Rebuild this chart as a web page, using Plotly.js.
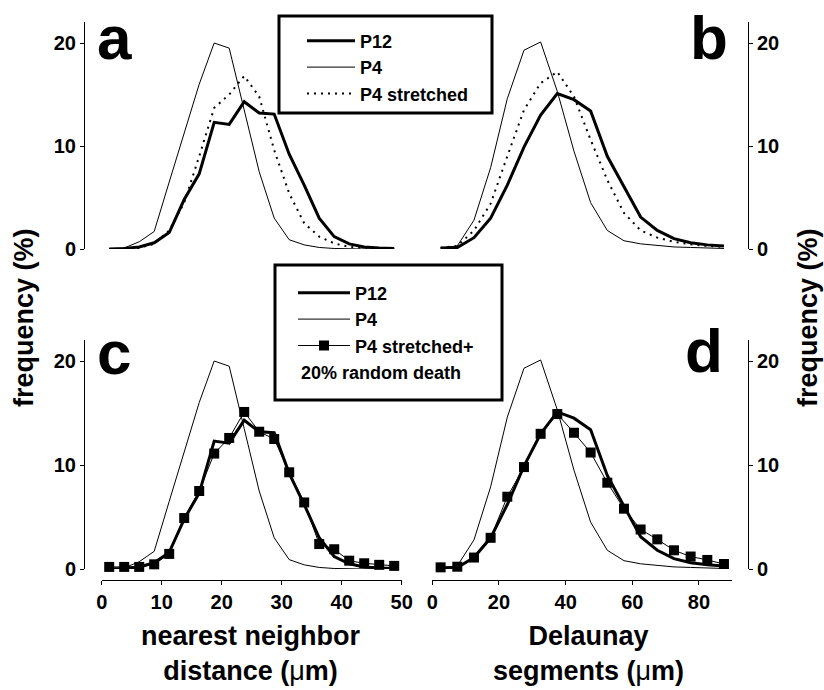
<!DOCTYPE html>
<html>
<head>
<meta charset="utf-8">
<script src="https://cdn.plot.ly/plotly-3.0.1.min.js"></script>
<style>html,body{margin:0;padding:0;background:#fff;}#chart{width:824px;height:690px;}</style>
</head>
<body>
<div id="chart"></div>
<script>
// ---- data ----
// nearest neighbor distance bins (µm), panels a and c
var nnBins = [1.25, 3.75, 6.25, 8.75, 11.25, 13.75, 16.25, 18.75, 21.25, 23.75, 26.25, 28.75, 31.25, 33.75, 36.25, 38.75, 41.25, 43.75, 46.25, 48.75];
var nnP12 = [0, 0.05, 0.2, 0.6, 1.6, 4.8, 7.3, 12.3, 12.1, 14.3, 13.2, 13.1, 9.2, 6.2, 3.0, 1.2, 0.5, 0.2, 0.1, 0.05];
var nnP4 = [0, 0.1, 0.7, 1.7, 6.5, 11.2, 16.0, 20.0, 19.5, 13.5, 7.5, 3.0, 0.9, 0.4, 0.15, 0.05, 0, 0, 0, 0];
var nnP4Stretched = [0, 0, 0.1, 0.5, 1.8, 4.5, 9.0, 13.7, 15.0, 16.8, 14.8, 9.6, 5.4, 2.5, 1.2, 0.55, 0.2, 0.1, 0.05, 0];
var nnP4StretchedDeath = [0.2, 0.2, 0.2, 0.45, 1.45, 4.9, 7.5, 11.1, 12.6, 15.1, 13.2, 12.5, 9.3, 6.4, 2.4, 1.9, 0.8, 0.55, 0.4, 0.3];

// Delaunay segment bins (µm), panels b and d
var dsBins = [2.5, 7.5, 12.5, 17.5, 22.5, 27.5, 32.5, 37.5, 42.5, 47.5, 52.5, 57.5, 62.5, 67.5, 72.5, 77.5, 82.5, 87.5];
var dsP12 = [0.1, 0.15, 1.1, 3.0, 6.2, 9.9, 13.0, 15.1, 14.5, 13.4, 9.0, 6.0, 3.1, 1.8, 1.0, 0.6, 0.4, 0.3];
var dsP4 = [0.1, 0.3, 2.8, 7.9, 14.6, 19.3, 20.1, 15.3, 9.5, 4.5, 1.8, 0.8, 0.5, 0.35, 0.2, 0.15, 0.1, 0.05];
var dsP4Stretched = [0.1, 0.3, 1.8, 4.4, 9.0, 13.5, 16.1, 17.2, 14.8, 10.6, 6.7, 3.5, 1.8, 1.1, 0.7, 0.45, 0.3, 0.2];
var dsP4StretchedDeath = [0.16, 0.22, 1.1, 3.0, 6.95, 9.8, 13.0, 14.9, 13.1, 11.2, 8.3, 5.8, 3.8, 2.85, 1.8, 1.2, 0.87, 0.48];

// labels
var seriesNames = ['P12', 'P4', 'P4 stretched', 'P4 stretched+'];
var yTicks = [0, 10, 20];
var nnTicks = [0, 10, 20, 30, 40, 50];
var dsTicks = [0, 20, 40, 60, 80];

// ---- styling ----
var W = 824, H = 690;
function px(x) { return x / W; }
function py(y) { return 1 - y / H; }
var FONT = 'Liberation Sans, Arial, Helvetica, sans-serif';
var thick = {color: '#000', width: 3};
var thin = {color: '#000', width: 1};
var dotted = {color: '#000', width: 2, dash: '2px,5px'};

function tr(x, y, name, line, xa, ya, legend, show, extra) {
  var t = {x: x, y: y, name: name, type: 'scatter', mode: 'lines', line: line,
           xaxis: xa, yaxis: ya, showlegend: show, legend: legend, cliponaxis: false,
           hoverinfo: 'skip'};
  if (extra) for (var k in extra) t[k] = extra[k];
  return t;
}
var sqMarker = {symbol: 'square', size: 10, color: '#000'};

var traces = [
  // panel a
  tr(nnBins, nnP12, seriesNames[0], thick, 'x', 'y', 'legend', true),
  tr(nnBins, nnP4, seriesNames[1], thin, 'x', 'y', 'legend', true),
  tr(nnBins, nnP4Stretched, seriesNames[2], dotted, 'x', 'y', 'legend', true),
  // panel b
  tr(dsBins, dsP12, seriesNames[0], thick, 'x2', 'y2', 'legend', false),
  tr(dsBins, dsP4, seriesNames[1], thin, 'x2', 'y2', 'legend', false),
  tr(dsBins, dsP4Stretched, seriesNames[2], dotted, 'x2', 'y2', 'legend', false),
  // panel c
  tr(nnBins, nnP12, seriesNames[0], thick, 'x3', 'y3', 'legend2', true),
  tr(nnBins, nnP4, seriesNames[1], thin, 'x3', 'y3', 'legend2', true),
  tr(nnBins, nnP4StretchedDeath, seriesNames[3], thin, 'x3', 'y3', 'legend2', true, {mode: 'lines+markers', marker: sqMarker}),
  // panel d
  tr(dsBins, dsP12, seriesNames[0], thick, 'x4', 'y4', 'legend2', false),
  tr(dsBins, dsP4, seriesNames[1], thin, 'x4', 'y4', 'legend2', false),
  tr(dsBins, dsP4StretchedDeath, seriesNames[3], thin, 'x4', 'y4', 'legend2', false, {mode: 'lines+markers', marker: sqMarker})
];

var tickFont = {family: FONT, size: 20, color: '#000', weight: 'bold'};

// geometry (pixels)
var leftX0 = 101.7, leftX1 = 401.7;
var rightX0 = 432.3, rightX1 = 732.3;
var topY0 = 249, topY1 = 249 - 22 * 10.3;
var botY0 = 569, botY1 = 569 - 22 * 10.4;
var xAxisLineY = 580;

function yAxis(dom, pos, side) {
  return {domain: dom, range: [0, 22], anchor: 'free', position: pos, side: side,
          showline: true, linecolor: '#000', linewidth: 1, ticks: 'outside', ticklen: 4,
          tickwidth: 1, tickcolor: '#000', tickvals: yTicks, ticktext: yTicks.map(String),
          tickfont: tickFont, showgrid: false, zeroline: false, fixedrange: true};
}
function xHidden(dom, rng) {
  return {domain: dom, range: rng, visible: false, fixedrange: true};
}
function xShown(dom, rng, ticks, pos) {
  return {domain: dom, range: rng, anchor: 'free', position: pos, showline: true,
          linecolor: '#000', linewidth: 1, ticks: 'outside', ticklen: 4, tickwidth: 1,
          tickcolor: '#000', tickvals: ticks, ticktext: ticks.map(String), tickfont: tickFont,
          showgrid: false, zeroline: false, fixedrange: true};
}

var leftDom = [px(leftX0), px(leftX1)];
var rightDom = [px(rightX0), px(rightX1)];
var topDom = [py(topY0), py(topY1)];
var botDom = [py(botY0), py(botY1)];

var letterFont = {family: FONT, size: 62, color: '#000', weight: 'bold'};
var titleFont = {family: FONT, size: 27, color: '#000', weight: 'bold'};
var legFont = {family: FONT, size: 18, color: '#000', weight: 'bold'};

function ann(text, x, y, font, extra) {
  var a = {text: text, x: px(x), y: py(y), xref: 'paper', yref: 'paper', showarrow: false,
           font: font, xanchor: 'center', yanchor: 'middle'};
  if (extra) for (var k in extra) a[k] = extra[k];
  return a;
}
var mu = '<span style="font-weight:normal">μ</span>';

var layout = {
  width: W, height: H,
  margin: {l: 0, r: 0, t: 0, b: 0, pad: 0},
  paper_bgcolor: '#fff', plot_bgcolor: 'rgba(0,0,0,0)',
  font: {family: FONT, color: '#000'},
  xaxis: xHidden(leftDom, [0, 50]),
  yaxis: yAxis(topDom, px(84), 'left'),
  xaxis2: xHidden(rightDom, [0, 90]),
  yaxis2: yAxis(topDom, px(748), 'right'),
  xaxis3: xShown(leftDom, [0, 50], nnTicks, py(xAxisLineY)),
  yaxis3: yAxis(botDom, px(84), 'left'),
  xaxis4: xShown(rightDom, [0, 90], dsTicks, py(xAxisLineY)),
  yaxis4: yAxis(botDom, px(748), 'right'),
  legend: {x: px(302), y: py(22.5), xanchor: 'left', yanchor: 'top', bgcolor: 'rgba(0,0,0,0)',
           borderwidth: 0, font: legFont, itemwidth: 48, tracegroupgap: 0, traceorder: 'normal'},
  legend2: {x: px(293), y: py(274.5), xanchor: 'left', yanchor: 'top', bgcolor: 'rgba(0,0,0,0)',
            borderwidth: 0, font: legFont, itemwidth: 52, tracegroupgap: 0, traceorder: 'normal'},
  shapes: [
    {type: 'rect', xref: 'paper', yref: 'paper', x0: px(279), x1: px(492), y0: py(16), y1: py(113),
     line: {color: '#000', width: 3}, fillcolor: 'rgba(0,0,0,0)'},
    {type: 'rect', xref: 'paper', yref: 'paper', x0: px(275), x1: px(502), y0: py(265), y1: py(400),
     line: {color: '#000', width: 3}, fillcolor: 'rgba(0,0,0,0)'}
  ],
  annotations: [
    ann('a', 114, 1, letterFont, {yanchor: 'top'}),
    ann('b', 709, 1, letterFont, {yanchor: 'top'}),
    ann('c', 114, 352, letterFont),
    ann('d', 704, 350, letterFont),
    ann('20% random death', 299, 373, legFont, {xanchor: 'left'}),
    ann('frequency (%)', 24, 318, titleFont, {textangle: -90}),
    ann('frequency (%)', 808, 318, titleFont, {textangle: -90}),
    ann('nearest neighbor<br>distance (' + mu + 'm)', 251, 653, titleFont),
    ann('Delaunay<br>segments (' + mu + 'm)', 588, 653, titleFont)
  ]
};

Plotly.newPlot('chart', traces, layout, {displayModeBar: false, staticPlot: true});
</script>
</body>
</html>
